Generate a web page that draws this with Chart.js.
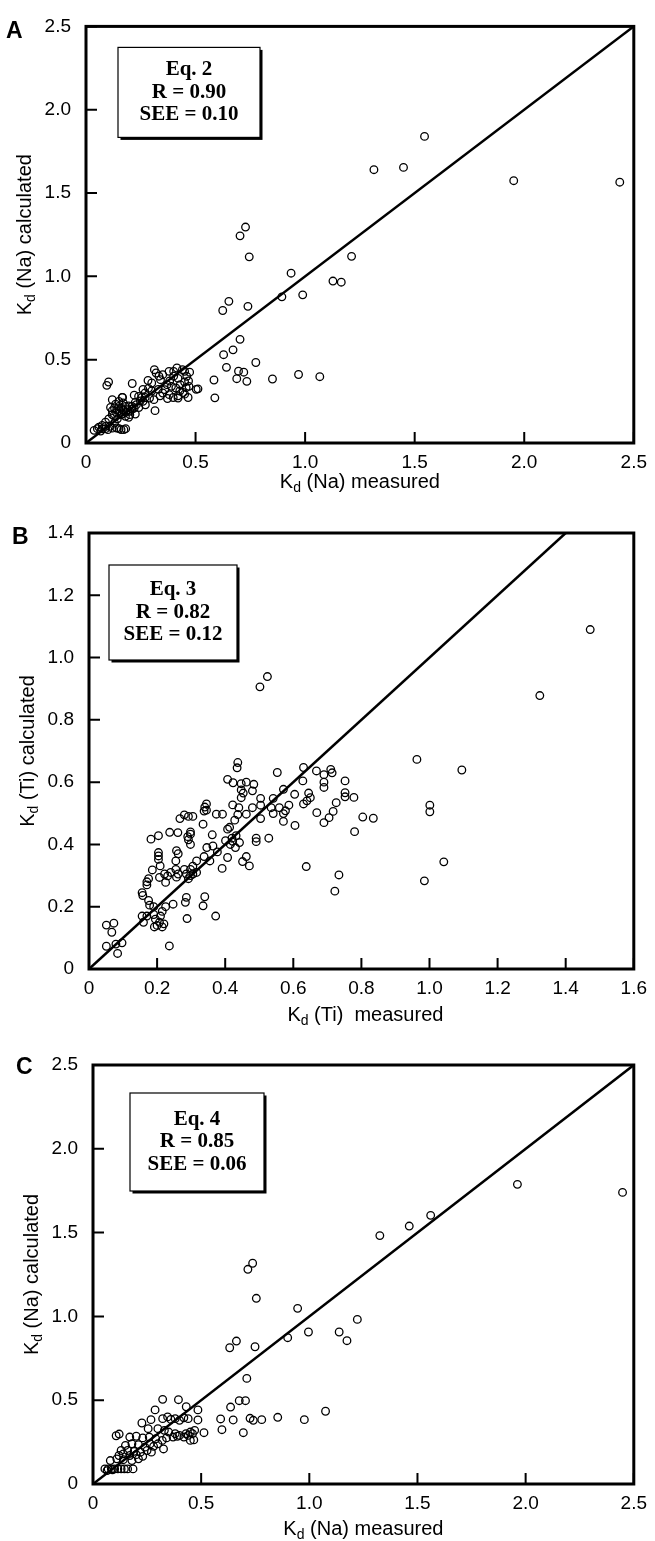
<!DOCTYPE html>
<html>
<head>
<meta charset="utf-8">
<script src="https://cdn.jsdelivr.net/npm/chart.js@4.4.1/dist/chart.umd.min.js"></script>
<style>
  body { margin: 0; background: #fff; width: 655px; height: 1541px; position: relative; overflow: hidden; }
  canvas { position: absolute; left: 0; }
</style>
</head>
<body>
<canvas id="chartA" width="655" height="500" style="top:0px"></canvas>
<canvas id="chartB" width="655" height="530" style="top:500px"></canvas>
<canvas id="chartC" width="655" height="511" style="top:1030px"></canvas>
<script>
// tick values
const naTicks = [0, 0.5, 1.0, 1.5, 2.0, 2.5]
const tiTicksX = [0, 0.2, 0.4, 0.6, 0.8, 1.0, 1.2, 1.4, 1.6]
const tiTicksY = [0, 0.2, 0.4, 0.6, 0.8, 1.0, 1.2, 1.4]

// stats shown in the boxes
const statsA = ['Eq. 2', 'R = 0.90', 'SEE = 0.10']
const statsB = ['Eq. 3', 'R = 0.82', 'SEE = 0.12']
const statsC = ['Eq. 4', 'R = 0.85', 'SEE = 0.06']

// 1:1 lines
const lineNa = [[0, 0], [2.5, 2.5]]
const lineTi = [[0, 0], [1.4, 1.4]]

// panel A: Kd(Na) measured vs calculated (Eq. 2)
const pointsA = [
  [1.545,1.84],[1.314,1.64],[1.449,1.654],[1.952,1.574],[2.436,1.565],[0.728,1.296],[0.703,1.243],[0.745,1.117],
  [1.212,1.12],[0.936,1.019],[1.127,0.972],[1.165,0.965],[0.894,0.877],[0.989,0.889],[0.652,0.85],[0.624,0.795],
  [0.739,0.82],[0.703,0.622],[0.671,0.559],[0.628,0.53],[0.775,0.483],[0.641,0.454],[0.696,0.431],[0.72,0.425],
  [0.734,0.37],[0.688,0.386],[0.584,0.378],[0.588,0.271],[0.851,0.384],[0.970,0.411],[1.067,0.398],
  [0.095,0.346],[0.103,0.366],[0.211,0.357],[0.312,0.44],[0.32,0.42],[0.333,0.401],[0.283,0.375],[0.26,0.322],
  [0.22,0.287],[0.167,0.273],[0.415,0.45],[0.379,0.43],[0.45,0.43],[0.473,0.425],[0.42,0.388],[0.40,0.401],
  [0.382,0.372],[0.45,0.366],[0.468,0.372],[0.457,0.332],[0.503,0.322],[0.443,0.303],[0.42,0.283],[0.372,0.267],
  [0.398,0.273],[0.338,0.283],[0.315,0.194],[0.285,0.328],[0.33,0.322],[0.30,0.312],[0.27,0.273],[0.248,0.253],
  [0.225,0.243],[0.195,0.223],[0.165,0.273],[0.135,0.233],[0.112,0.213],[0.12,0.194],[0.151,0.194],[0.181,0.184],
  [0.211,0.204],[0.241,0.213],[0.271,0.229],[0.127,0.164],[0.104,0.145],[0.089,0.125],[0.074,0.105],[0.052,0.086],
  [0.037,0.076],[0.067,0.072],[0.089,0.086],[0.151,0.086],[0.173,0.080],[0.181,0.086],[0.12,0.089],[0.059,0.095],
  [0.165,0.174],[0.195,0.154],[0.225,0.174],[0.143,0.145],[0.255,0.273],[0.466,0.273],[0.45,0.293],[0.428,0.312],
  [0.13,0.21],[0.14,0.2],[0.15,0.22],[0.16,0.21],[0.17,0.2],[0.18,0.22],[0.19,0.2],[0.2,0.19],[0.21,0.22],
  [0.22,0.21],[0.23,0.23],[0.14,0.18],[0.16,0.17],[0.18,0.16],[0.2,0.17],[0.12,0.17],[0.13,0.12],[0.11,0.1],
  [0.09,0.1],[0.075,0.085],[0.1,0.08],[0.14,0.09],[0.16,0.08],[0.12,0.26],[0.15,0.25],[0.17,0.24],[0.26,0.25],
  [0.29,0.27],[0.31,0.26],[0.35,0.3],[0.36,0.32],[0.37,0.35],[0.39,0.34],[0.41,0.33],[0.43,0.35],[0.46,0.4],
  [0.44,0.44],[0.35,0.41],[0.34,0.38],[0.3,0.36],[0.27,0.3],[0.24,0.28],[0.42,0.27],[0.38,0.29],[0.47,0.34],
  [0.4,0.43],[0.511,0.325]
]

// panel B: Kd(Ti) measured vs calculated (Eq. 3)
const pointsB = [
  [1.472,1.09],[1.324,0.878],[0.502,0.906],[0.524,0.939],[0.963,0.673],[1.095,0.639],[1.001,0.526],[1.001,0.505],
  [1.042,0.344],[0.985,0.283],[0.804,0.488],[0.835,0.484],[0.78,0.441],[0.734,0.302],[0.722,0.25],[0.638,0.329],
  [0.752,0.604],[0.752,0.566],[0.752,0.553],[0.778,0.551],[0.726,0.534],[0.717,0.506],[0.69,0.47],[0.705,0.486],
  [0.71,0.641],[0.714,0.63],[0.69,0.624],[0.69,0.6],[0.69,0.583],[0.668,0.636],[0.63,0.647],[0.628,0.604],
  [0.63,0.53],[0.64,0.54],[0.65,0.55],[0.645,0.565],[0.669,0.502],[0.604,0.561],[0.605,0.461],[0.571,0.474],
  [0.571,0.499],[0.577,0.508],[0.587,0.526],[0.571,0.577],[0.553,0.631],[0.541,0.548],[0.535,0.518],[0.541,0.499],
  [0.559,0.518],[0.504,0.548],[0.504,0.526],[0.504,0.483],[0.528,0.42],[0.491,0.42],[0.491,0.409],[0.484,0.593],
  [0.48,0.572],[0.48,0.518],[0.462,0.6],[0.447,0.595],[0.447,0.575],[0.447,0.55],[0.453,0.565],[0.462,0.497],
  [0.471,0.331],[0.462,0.361],[0.451,0.345],[0.437,0.663],[0.435,0.646],[0.423,0.598],[0.407,0.609],[0.422,0.527],
  [0.44,0.518],[0.437,0.496],[0.428,0.478],[0.407,0.449],[0.413,0.455],[0.42,0.42],[0.422,0.41],[0.415,0.4],
  [0.43,0.39],[0.432,0.428],[0.442,0.406],[0.401,0.412],[0.407,0.358],[0.392,0.497],[0.374,0.497],[0.391,0.323],
  [0.364,0.395],[0.377,0.376],[0.355,0.347],[0.362,0.431],[0.345,0.51],[0.345,0.53],[0.34,0.52],[0.338,0.507],
  [0.335,0.465],[0.346,0.39],[0.316,0.347],[0.316,0.31],[0.338,0.361],[0.34,0.232],[0.335,0.203],[0.372,0.17],
  [0.305,0.33],[0.298,0.32],[0.305,0.305],[0.292,0.29],[0.28,0.32],[0.286,0.305],[0.298,0.3],[0.298,0.433],
  [0.298,0.4],[0.29,0.425],[0.298,0.44],[0.292,0.415],[0.292,0.49],[0.305,0.49],[0.28,0.495],[0.267,0.483],
  [0.261,0.438],[0.286,0.23],[0.283,0.214],[0.288,0.162],[0.257,0.38],[0.262,0.37],[0.255,0.347],[0.262,0.305],
  [0.257,0.295],[0.255,0.32],[0.24,0.31],[0.247,0.208],[0.231,0.299],[0.237,0.439],[0.222,0.305],[0.225,0.278],
  [0.225,0.2],[0.215,0.185],[0.22,0.145],[0.215,0.135],[0.236,0.074],[0.204,0.428],[0.204,0.374],[0.204,0.363],
  [0.204,0.352],[0.209,0.331],[0.207,0.294],[0.21,0.17],[0.207,0.15],[0.186,0.318],[0.182,0.417],[0.175,0.29],
  [0.17,0.27],[0.17,0.28],[0.175,0.22],[0.178,0.205],[0.17,0.17],[0.158,0.236],[0.156,0.245],[0.156,0.17],
  [0.16,0.15],[0.19,0.2],[0.195,0.16],[0.2,0.14],[0.192,0.135],[0.19,0.175],[0.051,0.141],[0.073,0.147],
  [0.067,0.118],[0.051,0.073],[0.079,0.08],[0.084,0.05],[0.097,0.084]
]

// panel C: Kd(Na) measured vs calculated (Eq. 4)
const pointsC = [
  [1.962,1.788],[2.448,1.74],[1.326,1.482],[1.462,1.539],[1.561,1.603],[0.738,1.317],[0.716,1.281],[0.755,1.108],
  [0.946,1.048],[1.222,0.982],[1.138,0.907],[0.996,0.907],[0.90,0.873],[1.174,0.855],[0.632,0.813],[0.663,0.853],
  [0.749,0.819],[0.711,0.63],[0.676,0.497],[0.705,0.497],[0.636,0.459],[0.648,0.382],[0.59,0.388],[0.596,0.324],
  [0.695,0.306],[0.726,0.392],[0.741,0.38],[0.78,0.384],[0.854,0.398],[0.977,0.384],[1.075,0.434],
  [0.322,0.505],[0.395,0.503],[0.431,0.461],[0.485,0.442],[0.485,0.382],[0.513,0.306],[0.466,0.263],[0.287,0.442],
  [0.268,0.384],[0.226,0.364],[0.322,0.39],[0.345,0.4],[0.36,0.385],[0.38,0.39],[0.4,0.38],[0.42,0.395],
  [0.44,0.39],[0.255,0.33],[0.3,0.33],[0.33,0.32],[0.35,0.31],[0.38,0.3],[0.4,0.29],[0.43,0.3],
  [0.45,0.31],[0.47,0.32],[0.107,0.288],[0.121,0.298],[0.17,0.28],[0.2,0.285],[0.23,0.275],[0.26,0.28],
  [0.29,0.27],[0.32,0.26],[0.34,0.275],[0.37,0.28],[0.39,0.285],[0.42,0.28],[0.44,0.29],[0.326,0.209],
  [0.264,0.239],[0.15,0.23],[0.18,0.24],[0.21,0.235],[0.24,0.22],[0.28,0.225],[0.3,0.24],[0.13,0.2],
  [0.16,0.2],[0.19,0.195],[0.22,0.19],[0.25,0.2],[0.12,0.17],[0.14,0.18],[0.17,0.17],[0.2,0.175],
  [0.23,0.165],[0.27,0.19],[0.08,0.14],[0.11,0.15],[0.14,0.145],[0.18,0.14],[0.21,0.15],[0.055,0.09],
  [0.07,0.09],[0.085,0.09],[0.1,0.09],[0.115,0.09],[0.13,0.09],[0.145,0.09],[0.16,0.09],[0.185,0.09],
  [0.065,0.08],[0.09,0.085],[0.45,0.26],[0.46,0.3]
]

const SANS = '"Liberation Sans", Arial, Helvetica, sans-serif'
const SERIF = '"Liberation Serif", "Times New Roman", serif'

// K with subscript d, then the rest of the title
function drawKd(ctx, cx, cy, rest, rot) {
  ctx.save()
  ctx.translate(cx, cy)
  if (rot) ctx.rotate(-Math.PI / 2)
  ctx.textBaseline = 'alphabetic'
  ctx.textAlign = 'left'
  ctx.fillStyle = '#000'
  ctx.font = '20px ' + SANS
  const wK = ctx.measureText('K').width
  const wR = ctx.measureText(rest).width
  ctx.font = '14px ' + SANS
  const wd = ctx.measureText('d').width
  let x = -(wK + wd + wR) / 2
  const base = 7
  ctx.font = '20px ' + SANS
  ctx.fillText('K', x, base)
  x += wK
  ctx.font = '14px ' + SANS
  ctx.fillText('d', x, base + 4)
  x += wd
  ctx.font = '20px ' + SANS
  ctx.fillText(rest, x, base)
  ctx.restore()
}

const frameDeco = {
  id: 'frameDeco',
  afterDraw(chart, args, o) {
    const {ctx, chartArea: a, scales: {x, y}} = chart
    ctx.save()
    ctx.strokeStyle = '#000'
    // inward ticks
    ctx.lineWidth = 2
    ctx.beginPath()
    y.ticks.forEach(t => {
      const p = y.getPixelForValue(t.value)
      ctx.moveTo(a.left, p); ctx.lineTo(a.left + 11, p)
    })
    x.ticks.forEach(t => {
      const p = x.getPixelForValue(t.value)
      ctx.moveTo(p, a.bottom); ctx.lineTo(p, a.bottom - 11)
    })
    ctx.stroke()
    // frame
    ctx.lineWidth = 3
    ctx.strokeRect(a.left, a.top, a.right - a.left, a.bottom - a.top)

    // stats box with shadow
    const bx = a.left + o.box[0], by = a.top + o.box[1], bw = o.box[2], bh = o.box[3]
    ctx.fillStyle = '#000'
    ctx.fillRect(bx + 2.5, by + 2.5, bw, bh)
    ctx.fillStyle = '#fff'
    ctx.fillRect(bx, by, bw, bh)
    ctx.lineWidth = 1.2
    ctx.strokeRect(bx, by, bw, bh)
    ctx.fillStyle = '#000'
    ctx.font = 'bold 21px ' + SERIF
    ctx.textAlign = 'center'
    ctx.textBaseline = 'middle'
    const cx = bx + bw / 2, cy = by + bh / 2
    o.lines.forEach((s, i) => ctx.fillText(s, cx, cy + (i - 1) * 22.5))

    // panel letter
    ctx.font = 'bold 23px ' + SANS
    ctx.textAlign = 'left'
    ctx.fillText(o.letter, o.letterPos[0], a.top + o.letterPos[1])

    // axis titles
    drawKd(ctx, (a.left + a.right) / 2 + o.xTitleShift, a.bottom + o.xTitleGap, o.xTitle, false)
    drawKd(ctx, a.left - 62, (a.top + a.bottom) / 2, o.yTitle, true)
    ctx.restore()
  }
}

function makeChart(id, cfg) {
  const canvas = document.getElementById(id)
  const fmt = v => v === 0 ? '0' : v.toFixed(1)
  new Chart(canvas, {
    type: 'scatter',
    data: {
      datasets: [{
        data: cfg.points.map(p => ({x: p[0], y: p[1]})),
        pointStyle: 'circle',
        pointRadius: 3.8,
        pointHoverRadius: 3.8,
        borderColor: '#000',
        backgroundColor: 'rgba(0,0,0,0)',
        borderWidth: 1.3
      }, {
        type: 'line',
        data: cfg.line.map(p => ({x: p[0], y: p[1]})),
        borderColor: '#000',
        borderWidth: 2.5,
        pointRadius: 0,
        fill: false
      }]
    },
    options: {
      responsive: false,
      animation: false,
      devicePixelRatio: 1,
      layout: {padding: {top: cfg.area.top, right: canvas.width - cfg.area.right, left: 0, bottom: 0}},
      plugins: {
        legend: {display: false},
        tooltip: {enabled: false},
        frameDeco: cfg.deco
      },
      scales: {
        x: {
          type: 'linear',
          min: 0, max: cfg.xTicks[cfg.xTicks.length - 1],
          afterBuildTicks: s => { s.ticks = cfg.xTicks.map(v => ({value: v})) },
          afterFit: s => { s.height = canvas.height - cfg.area.bottom },
          grid: {display: false, drawTicks: false},
          border: {display: false},
          ticks: {autoSkip: false, maxRotation: 0, padding: 8, color: '#000', font: {size: 19, family: SANS}, callback: fmt}
        },
        y: {
          type: 'linear',
          min: 0, max: cfg.yTicks[cfg.yTicks.length - 1],
          afterBuildTicks: s => { s.ticks = cfg.yTicks.map(v => ({value: v})) },
          afterFit: s => { s.width = cfg.area.left },
          grid: {display: false, drawTicks: false},
          border: {display: false},
          ticks: {autoSkip: false, padding: 15, color: '#000', font: {size: 19, family: SANS}, callback: fmt}
        }
      }
    },
    plugins: [frameDeco]
  })
}

makeChart('chartA', {
  points: pointsA, line: lineNa, xTicks: naTicks, yTicks: naTicks,
  area: {left: 86, right: 638, top: 17, bottom: 443},
  deco: {box: [32, 21, 142, 90], lines: statsA, letter: 'A', letterPos: [6, 5],
         xTitle: ' (Na) measured', yTitle: ' (Na) calculated', xTitleGap: 38, xTitleShift: 0}
})

makeChart('chartB', {
  points: pointsB, line: lineTi, xTicks: tiTicksX, yTicks: tiTicksY,
  area: {left: 89, right: 637, top: 33, bottom: 469},
  deco: {box: [20, 32, 128, 95], lines: statsB, letter: 'B', letterPos: [12, 5],
         xTitle: ' (Ti)  measured', yTitle: ' (Ti) calculated', xTitleGap: 45, xTitleShift: 4}
})

makeChart('chartC', {
  points: pointsC, line: lineNa, xTicks: naTicks, yTicks: naTicks,
  area: {left: 93, right: 637, top: 35, bottom: 454},
  deco: {box: [37, 28, 134, 98], lines: statsC, letter: 'C', letterPos: [16, 3],
         xTitle: ' (Na) measured', yTitle: ' (Na) calculated', xTitleGap: 44, xTitleShift: 0}
})
</script>
</body>
</html>
